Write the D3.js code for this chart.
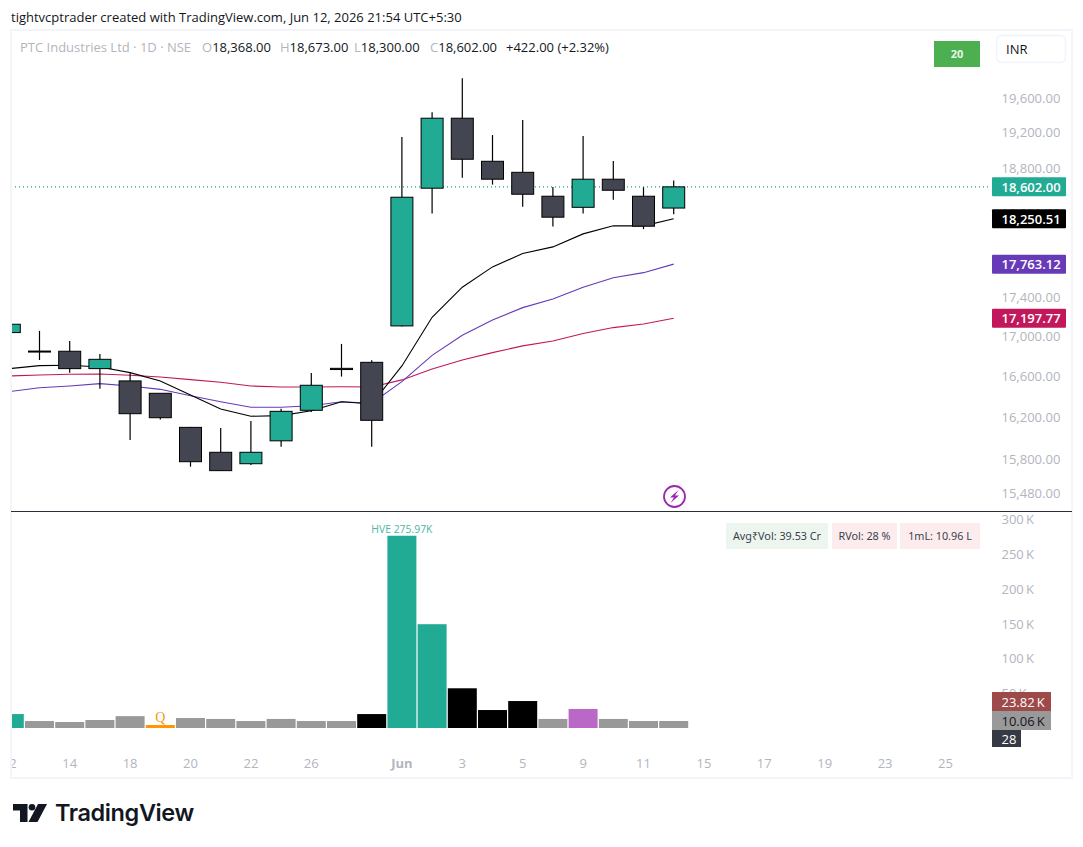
<!DOCTYPE html>
<html>
<head>
<meta charset="utf-8">
<script src="https://cdn.jsdelivr.net/npm/d3@7"></script>
<style>
    html, body { margin: 0; padding: 0; background: #fff; }
    svg { display: block; font-family: "Open Sans", sans-serif; }
</style>
</head>
<body>
<div id="chart"></div>
<script>
// trading days, then the empty days to the right of the last candle
let days = ["05-12","05-13","05-14","05-15","05-18","05-19","05-20","05-21","05-22","05-25","05-26","05-27","05-28",
    "06-01","06-02","06-03","06-04","06-05","06-08","06-09","06-10","06-11","06-12",
    "06-15","06-16","06-17","06-18","06-19","06-22","06-23","06-24","06-25"];
let tickDays = ["05-12","05-14","05-18","05-20","05-22","05-26","06-01","06-03","06-05","06-09","06-11","06-15","06-17","06-19","06-23","06-25"];
let tickDayLabels = ["12","14","18","20","22","26","Jun","3","5","9","11","15","17","19","23","25"];

let open  = [17052,16865,16863,16689,16567,16445,16114,15876,15768,15985,16279,16692,16752,17120,18587,19380,18888,18764,18498,18376,18687,18498,18368];
let high  = [17150,17069,16967,16836,16653,16448,16118,16108,16175,16294,16646,16937,16772,19164,19449,19847,19186,19360,18601,19175,18892,18597,18673];
let low   = [17040,16775,16649,16490,15994,16191,15740,15700,15756,15928,16262,16610,15928,17115,18307,18704,18627,18383,18166,18307,18460,18138,18300];
let close = [17137,16855,16689,16782,16246,16207,15787,15703,15876,16269,16524,16680,16182,18487,19380,18911,18687,18520,18268,18687,18564,18170,18602];

let maBlack  = [16689,16719,16723,16706,16649,16567,16428,16291,16221,16227,16275,16362,16340,16716,17208,17520,17734,17876,17947,18087,18174,18174,18250.51];
let maPurple = [16461,16500,16517,16540,16517,16484,16421,16362,16308,16308,16323,16362,16347,16560,16822,17025,17181,17308,17398,17520,17620,17673,17763.12];
let maRed    = [16616,16626,16633,16636,16623,16606,16580,16554,16517,16507,16507,16510,16507,16577,16686,16775,16849,16917,16967,17042,17103,17140,17197.77];

// volume in thousands
let volume = [20,10,8.6,11.5,17,4.3,14.3,13,10,13,10,10,20,275.97,149,57,25.8,38.7,13,27.3,13,10,10.06];
let volumeKind = ["up","flat","flat","flat","flat","result","flat","flat","flat","flat","flat","flat","down","up","up","down","down","down","flat","pocket","flat","flat","flat"];

let priceTicks = [19600,19200,18800,18300,17400,17000,16600,16200,15800,15480];
let volumeTicks = [300,250,200,150,100,50];

let legendNames = ["O","H","L","C"];
let legendValues = ["18,368.00","18,673.00","18,300.00","18,602.00"];

let colors = { up: "#22ab94", down: "#434651", black: "#000000", purple: "#673ab7", red: "#c2185b", axis: "#b2b5be", frame: "#f0f3fa", dark: "#131722" };
let volumeColors = { up: "#22ab94", flat: "#999999", down: "#000000", result: "#ff9800", pocket: "#ba68c8" };

let width = 1083, height = 847;
let svg = d3.select("#chart").append("svg").attr("width", width).attr("height", height);

let x = d3.scalePoint().domain(days).range([9.3, 945.5]);
let y = d3.scaleLog().domain([19600, 15480]).range([99.3, 494.6]);
let yVol = d3.scaleLinear().domain([0, 300]).range([728, 519]);
let pos = i => x(days[i]);

let defs = svg.append("defs");
defs.append("clipPath").attr("id", "plot").append("rect").attr("x", 12).attr("y", 31).attr("width", 1059).attr("height", 746);

// frame
svg.append("rect").attr("x", 11).attr("y", 30).attr("width", 1061).attr("height", 748).attr("fill", "none").attr("stroke", colors.frame).attr("stroke-width", 1.6);
svg.append("line").attr("x1", 11).attr("x2", 1072).attr("y1", 511.5).attr("y2", 511.5).attr("stroke", "#2a2e39").attr("stroke-width", 1.2);

// header
svg.append("text").attr("x", 11).attr("y", 21.5).attr("font-size", 13).attr("fill", colors.dark).text("tightvcptrader created with TradingView.com, Jun 12, 2026 21:54 UTC+5:30");

let legend = svg.append("g").attr("font-size", 13);
legend.append("text").attr("x", 20).attr("y", 52).attr("fill", colors.axis).text("PTC Industries Ltd \u00b7 1D \u00b7 NSE");
let legendX = [202, 280, 354, 430];
legendNames.forEach((n, i) => {
    let t = legend.append("text").attr("x", legendX[i]).attr("y", 52);
    t.append("tspan").attr("fill", colors.axis).text(n);
    t.append("tspan").attr("fill", colors.dark).text(legendValues[i]);
});
legend.append("text").attr("x", 506).attr("y", 52).attr("fill", colors.dark).text("+422.00 (+2.32%)");

let plot = svg.append("g").attr("clip-path", "url(#plot)");

// last price dotted line
plot.append("line").attr("x1", 11).attr("x2", 990).attr("y1", y(18602)).attr("y2", y(18602))
    .attr("stroke", "#1f9e89").attr("stroke-width", 1.1).attr("stroke-dasharray", "1 3");

// moving averages go under the candles
let maLine = d3.line().x((d, i) => pos(i)).y(d => y(d));
[[maRed, colors.red], [maPurple, colors.purple], [maBlack, colors.black]].forEach(m => {
    plot.append("path").attr("d", maLine(m[0])).attr("fill", "none").attr("stroke", m[1]).attr("stroke-width", 1.1);
});

// candles
let candles = plot.selectAll("g.candle").data(open).join("g").attr("class", "candle");
candles.append("line")
    .attr("x1", (d, i) => pos(i)).attr("x2", (d, i) => pos(i))
    .attr("y1", (d, i) => y(high[i])).attr("y2", (d, i) => y(low[i]))
    .attr("stroke", "#000").attr("stroke-width", 1.2);
candles.append("rect")
    .attr("x", (d, i) => pos(i) - 11)
    .attr("width", 22)
    .attr("y", (d, i) => y(Math.max(open[i], close[i])))
    .attr("height", (d, i) => Math.abs(y(open[i]) - y(close[i])))
    .attr("fill", (d, i) => close[i] > open[i] ? colors.up : colors.down)
    .attr("stroke", "#000").attr("stroke-width", 1);

// volume
plot.selectAll("rect.vol").data(volume).join("rect").attr("class", "vol")
    .attr("x", (d, i) => pos(i) - 14.5)
    .attr("width", 29)
    .attr("y", d => yVol(d))
    .attr("height", d => yVol(0) - yVol(d))
    .attr("fill", (d, i) => volumeColors[volumeKind[i]]);

svg.append("text").attr("x", pos(13)).attr("y", 532.5).attr("text-anchor", "middle").attr("font-size", 10.4).attr("fill", "#4db6a4").text("HVE 275.97K");
svg.append("text").attr("x", pos(5)).attr("y", 722).attr("text-anchor", "middle").attr("font-size", 14).attr("font-family", "Liberation Serif").attr("fill", "#f59b0e").text("Q");

// x axis labels
plot.selectAll("text.day").data(tickDays).join("text").attr("class", "day")
    .attr("x", d => x(d)).attr("y", 767.5)
    .attr("text-anchor", "middle").attr("font-size", 13)
    .attr("font-weight", d => d === "06-01" ? 700 : 400)
    .attr("fill", colors.axis)
    .text((d, i) => tickDayLabels[i]);

// right axes
svg.selectAll("text.ptick").data(priceTicks).join("text").attr("class", "ptick")
    .attr("x", 1001.5).attr("y", d => y(d) + 3.5)
    .attr("font-size", 13).attr("fill", colors.axis)
    .text(d => d3.format(",.2f")(d));
svg.selectAll("text.vtick").data(volumeTicks).join("text").attr("class", "vtick")
    .attr("x", 1001.5).attr("y", d => yVol(d) + 5)
    .attr("font-size", 13).attr("fill", colors.axis)
    .text(d => d + "\u2009K");

// value tags on the axis
function tag(value, fill, textFill) {
    let cy = y(value);
    svg.append("rect").attr("x", 992).attr("y", cy - 9.5).attr("width", 74).attr("height", 19).attr("rx", 1).attr("fill", fill);
    svg.append("text").attr("x", 1001.5).attr("y", cy + 4.8).attr("font-size", 13).attr("font-weight", 600).attr("fill", textFill).text(d3.format(",.2f")(value));
}
tag(18602, colors.up, "#fff");
tag(18250.51, colors.black, "#fff");
tag(17763.12, colors.purple, "#fff");
tag(17197.77, colors.red, "#fff");

function volumeTag(label, top, h, w, fill, textFill) {
    svg.append("rect").attr("x", 992).attr("y", top).attr("width", w).attr("height", h).attr("fill", fill);
    svg.append("text").attr("x", 1001.5).attr("y", top + h / 2 + 5).attr("font-size", 13).attr("font-weight", 500).attr("fill", textFill).text(label);
}
volumeTag("23.82\u2009K", 692, 19, 59, "#9e4a4a", "#fff");
volumeTag("10.06\u2009K", 711, 19, 59, "#999999", "#131722");
volumeTag("28", 730, 17, 29, "#363a45", "#fff");

// top right boxes
svg.append("rect").attr("x", 934).attr("y", 41).attr("width", 46).attr("height", 26).attr("fill", "#4caf50");
svg.append("text").attr("x", 957).attr("y", 58).attr("text-anchor", "middle").attr("font-size", 11).attr("font-weight", 700).attr("fill", "#e8f5e9").text("20");
svg.append("rect").attr("x", 996.5).attr("y", 35.5).attr("width", 69).attr("height", 27).attr("rx", 5).attr("fill", "#fff").attr("stroke", colors.frame).attr("stroke-width", 1.4);
svg.append("text").attr("x", 1006).attr("y", 54).attr("font-size", 13).attr("fill", colors.dark).text("INR");

// info cells above the volume pane
let infoLabels = ["Avg\u20b9Vol: 39.53 Cr", "RVol: 28 %", "1mL: 10.96 L"];
let infoLeft = [726, 832, 900];
let infoRight = [828, 897, 980];
let infoFill = ["#edf6ee", "#fdecee", "#fdecee"];
infoLabels.forEach((label, i) => {
    svg.append("rect").attr("x", infoLeft[i]).attr("y", 523).attr("width", infoRight[i] - infoLeft[i]).attr("height", 26).attr("fill", infoFill[i]);
    svg.append("text").attr("x", (infoLeft[i] + infoRight[i]) / 2).attr("y", 540).attr("text-anchor", "middle").attr("font-size", 10.8).attr("font-family", "Noto Sans").attr("fill", "#3a3f4b").text(label);
});

// lightning badge
svg.append("circle").attr("cx", 674.5).attr("cy", 496.5).attr("r", 10.5).attr("fill", "#fff").attr("stroke", "#9c27b0").attr("stroke-width", 1.8);
svg.append("path").attr("d", "M678.5 490 L670 497.5 L674 497.5 L670.5 503 L679 495.5 L675 495.5 Z").attr("fill", "#9c27b0");

// logo
let logo = svg.append("g").attr("fill", "#131722");
logo.append("path").attr("d", "M13 804 H27.5 V822 H20 V810.5 H13 Z");
logo.append("circle").attr("cx", 32).attr("cy", 807.3).attr("r", 3.3);
logo.append("path").attr("d", "M38 804 H47 L37.5 822 H28.5 Z");
logo.append("text").attr("x", 55).attr("y", 821).attr("font-family", "Inter").attr("font-size", 23.5).attr("font-weight", 600).attr("letter-spacing", -0.4).attr("fill", "#131722").text("TradingView");
</script>
</body>
</html>
